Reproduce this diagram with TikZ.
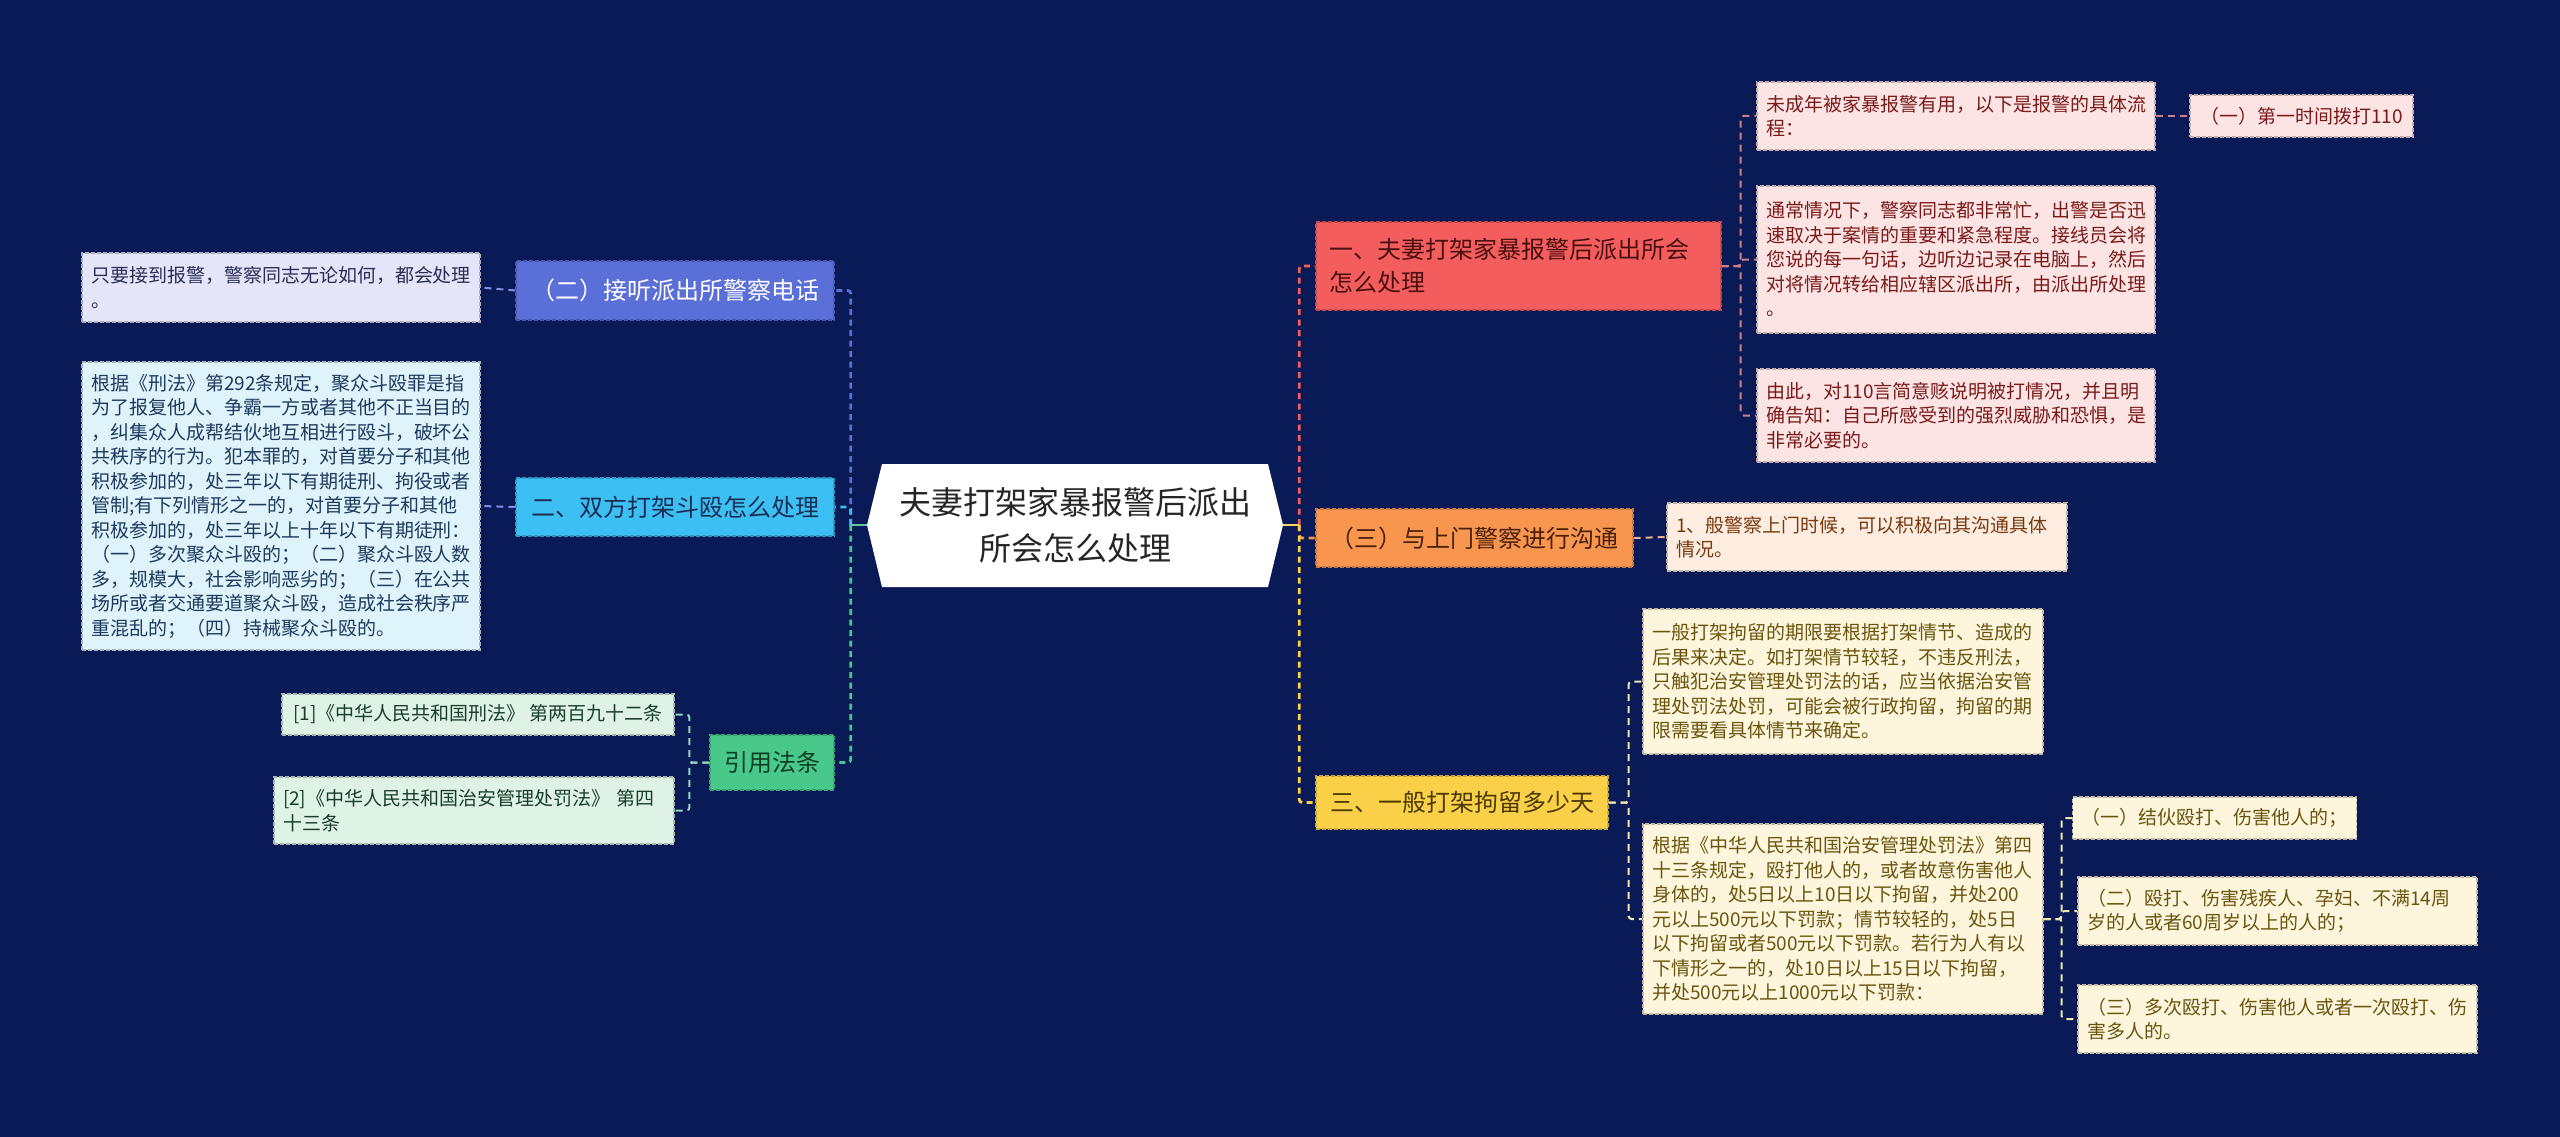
\documentclass[tikz,border=0pt]{standalone}
\usepackage{fontspec}
\setmainfont{Noto Sans CJK SC}
\usetikzlibrary{calc}
\definecolor{bg}{HTML}{0A1A56}
% branch colours
\definecolor{cLa}{HTML}{5A6FD8}\definecolor{cLaT}{HTML}{FFFFFF}
\definecolor{cLaF}{HTML}{E4E5F8}\definecolor{cLaFT}{HTML}{2B2F55}\definecolor{cLaC}{HTML}{7F90E6}
\definecolor{cLb}{HTML}{3CBFF2}\definecolor{cLbT}{HTML}{1A2D55}
\definecolor{cLbF}{HTML}{DFF3FB}\definecolor{cLbFT}{HTML}{1E3A5E}\definecolor{cLbC}{HTML}{7F90E6}
\definecolor{cLc}{HTML}{48C98B}\definecolor{cLcT}{HTML}{0F3D25}
\definecolor{cLcF}{HTML}{DEF3E6}\definecolor{cLcFT}{HTML}{1A3D2A}\definecolor{cLcC}{HTML}{8FD8B8}
\definecolor{cRa}{HTML}{F35D5D}\definecolor{cRaT}{HTML}{4A0F0F}
\definecolor{cRaF}{HTML}{FDE4E4}\definecolor{cRaFT}{HTML}{7A1A1A}\definecolor{cRaC}{HTML}{D0808C}
\definecolor{cRb}{HTML}{F8964F}\definecolor{cRbT}{HTML}{4A200A}
\definecolor{cRbF}{HTML}{FDEDE0}\definecolor{cRbFT}{HTML}{7A3A10}\definecolor{cRbC}{HTML}{E8B090}
\definecolor{cRc}{HTML}{FBD049}\definecolor{cRcT}{HTML}{4A3A00}
\definecolor{cRcF}{HTML}{FDF6DC}\definecolor{cRcFT}{HTML}{6A5510}\definecolor{cRcC}{HTML}{F2E6B0}
\definecolor{cLstub}{HTML}{5CC9A0}\definecolor{cRstub}{HTML}{F5DA5A}
\tikzset{
  box/.style={rectangle, inner xsep=9pt, inner ysep=4pt, line width=1.2pt, dash pattern=on 4pt off 2pt},
  leaf/.style={box, font=\fontsize{19}{24.5}\selectfont, align=left},
  leafc/.style={box, font=\fontsize{19}{24.5}\selectfont, align=center},
  mainbox/.style={box, font=\fontsize{24}{33}\selectfont, align=center},
  mainboxl/.style={box, inner xsep=13pt, font=\fontsize{24}{33}\selectfont, align=left},
  conn/.style={line width=2.8pt, dash pattern=on 6pt off 4.5pt, rounded corners=3pt},
  stub/.style={line width=2.4pt},
  conn2/.style={line width=2pt, dash pattern=on 7pt off 5pt, rounded corners=3pt},
}
\begin{document}
\begin{tikzpicture}[x=1pt,y=-1pt]
\fill[bg] (0,0) rectangle (2560,1137);
\useasboundingbox (0,0) rectangle (2560,1137);
% root
\fill[white] (882,464) -- (1268,464) -- (1283,525) -- (1268,587) -- (882,587) -- (867,525) -- cycle;
\node[rectangle, minimum width=416pt, minimum height=123pt, align=center, text=black!85,
      font=\fontsize{32}{46}\selectfont] (root) at (1075,525) {夫妻打架家暴报警后派出\\所会怎么处理};

% ---------------- left side
\node[mainbox, fill=cLa, draw=cLa!80!black, text=cLaT, minimum width=318pt, minimum height=59pt] (l1) at (675,290.5) {（二）接听派出所警察电话};
\node[leaf, fill=cLaF, draw=cLaF!75!black, text=cLaFT, text width=380pt, minimum height=69pt] (l1a) at (281,287.5)
  {只要接到报警，警察同志无论如何，都会处理\\。};
\node[mainbox, fill=cLb, draw=cLb!80!black, text=cLbT, minimum width=318pt, minimum height=58pt] (l2) at (675,507) {二、双方打架斗殴怎么处理};
\node[leaf, fill=cLbF, draw=cLbF!75!black, text=cLbFT, text width=380pt, minimum height=288pt] (l2a) at (281,506)
  {根据《刑法》第292条规定，聚众斗殴罪是指\\为了报复他人、争霸一方或者其他不正当目的\\，纠集众人成帮结伙地互相进行殴斗，破坏公\\共秩序的行为。犯本罪的，对首要分子和其他\\积极参加的，处三年以下有期徒刑、拘役或者\\管制;有下列情形之一的，对首要分子和其他\\积极参加的，处三年以上十年以下有期徒刑：\\（一）多次聚众斗殴的；（二）聚众斗殴人数\\多，规模大，社会影响恶劣的；（三）在公共\\场所或者交通要道聚众斗殴，造成社会秩序严\\重混乱的；（四）持械聚众斗殴的。};
\node[mainbox, fill=cLc, draw=cLc!80!black, text=cLcT, minimum width=124pt, minimum height=55pt] (l3) at (772,762.5) {引用法条};
\node[leafc, fill=cLcF, draw=cLcF!75!black, text=cLcFT, minimum width=392pt, minimum height=41pt] (l3a) at (478,714.5)
  {[1]《中华人民共和国刑法》 第两百九十二条};
\node[leaf, fill=cLcF, draw=cLcF!75!black, text=cLcFT, text width=382pt, minimum height=67pt] (l3b) at (474,810.5)
  {[2]《中华人民共和国治安管理处罚法》 第四\\十三条};

% ---------------- right side
\node[mainboxl, fill=cRa, draw=cRa!80!black, text=cRaT, text width=379pt, minimum height=88pt] (r1) at (1518.5,266)
  {一、夫妻打架家暴报警后派出所会\\怎么处理};
\node[leaf, fill=cRaF, draw=cRaF!75!black, text=cRaFT, text width=380pt, minimum height=68pt] (r1a) at (1956,116)
  {未成年被家暴报警有用，以下是报警的具体流\\程：};
\node[leafc, fill=cRaF, draw=cRaF!75!black, text=cRaFT, minimum width=223pt, minimum height=42pt] (r1a1) at (2301.5,116)
  {（一）第一时间拨打110};
\node[leaf, fill=cRaF, draw=cRaF!75!black, text=cRaFT, text width=380pt, minimum height=147pt] (r1b) at (1956,259.5)
  {通常情况下，警察同志都非常忙，出警是否迅\\速取决于案情的重要和紧急程度。接线员会将\\您说的每一句话，边听边记录在电脑上，然后\\对将情况转给相应辖区派出所，由派出所处理\\。};
\node[leaf, fill=cRaF, draw=cRaF!75!black, text=cRaFT, text width=380pt, minimum height=93pt] (r1c) at (1956,415.5)
  {由此，对110言简意赅说明被打情况，并且明\\确告知：自己所感受到的强烈威胁和恐惧，是\\非常必要的。};

\node[mainbox, fill=cRb, draw=cRb!80!black, text=cRbT, minimum width=317pt, minimum height=58pt] (r2) at (1474.5,538) {（三）与上门警察进行沟通};
\node[leaf, fill=cRbF, draw=cRbF!75!black, text=cRbFT, text width=382pt, minimum height=68pt] (r2a) at (1867,537)
  {1、般警察上门时候，可以积极向其沟通具体\\情况。};

\node[mainbox, fill=cRc, draw=cRc!80!black, text=cRcT, minimum width=292pt, minimum height=53pt] (r3) at (1462,802.5) {三、一般打架拘留多少天};
\node[leaf, fill=cRcF, draw=cRcF!75!black, text=cRcFT, text width=382pt, minimum height=145pt] (r3a) at (1843,681.5)
  {一般打架拘留的期限要根据打架情节、造成的\\后果来决定。如打架情节较轻，不违反刑法，\\只触犯治安管理处罚法的话，应当依据治安管\\理处罚法处罚，可能会被行政拘留，拘留的期\\限需要看具体情节来确定。};
\node[leaf, fill=cRcF, draw=cRcF!75!black, text=cRcFT, text width=382pt, minimum height=190pt] (r3b) at (1843,919)
  {根据《中华人民共和国治安管理处罚法》第四\\十三条规定，殴打他人的，或者故意伤害他人\\身体的，处5日以上10日以下拘留，并处200\\元以上500元以下罚款；情节较轻的，处5日\\以下拘留或者500元以下罚款。若行为人有以\\下情形之一的，处10日以上15日以下拘留，\\并处500元以上1000元以下罚款：};
\node[leafc, fill=cRcF, draw=cRcF!75!black, text=cRcFT, minimum width=273pt, minimum height=42pt] (r3b1) at (2214.5,818)
  {（一）结伙殴打、伤害他人的；};
\node[leaf, fill=cRcF, draw=cRcF!75!black, text=cRcFT, text width=381pt, minimum height=68pt] (r3b2) at (2277.5,911)
  {（二）殴打、伤害残疾人、孕妇、不满14周\\岁的人或者60周岁以上的人的；};
\node[leaf, fill=cRcF, draw=cRcF!75!black, text=cRcFT, text width=381pt, minimum height=68pt] (r3b3) at (2277.5,1019)
  {（三）多次殴打、伤害他人或者一次殴打、伤\\害多人的。};

% ---------------- connectors: root to main branches
\coordinate (lt) at ($(root.west)+(-16,0)$);
\coordinate (rt) at ($(root.east)+(16,0)$);
\draw[conn, cLa] (lt) |- (l1.east);
\draw[conn, cLb] (lt) |- (l2.east);
\draw[conn, cLc] (lt) |- (l3.east);
\draw[conn, cRa] (rt) |- (r1.west);
\draw[conn, cRb] (rt) |- (r2.west);
\draw[conn, cRc] (rt) |- (r3.west);
\draw[stub, cLstub] (root.west) -- (lt);
\draw[stub, cRstub] (root.east) -- (rt);
% second level
\draw[conn2, cLaC] (l1.west) -- (l1a.east);
\draw[conn2, cLbC] (l2.west) -- (l2a.east);
\draw[conn2, cLcC] (l3.west) -- ++(-20,0) |- (l3a.east);
\draw[conn2, cLcC] (l3.west) -- ++(-20,0) |- (l3b.east);
\draw[conn2, cRaC] (r1.east) -- ++(19,0) |- (r1a.west);
\draw[conn2, cRaC] (r1.east) -- ++(19,0) |- (r1b.west);
\draw[conn2, cRaC] (r1.east) -- ++(19,0) |- (r1c.west);
\draw[conn2, cRaC] (r1a.east) -- (r1a1.west);
\draw[conn2, cRbC] (r2.east) -- (r2a.west);
\draw[conn2, cRcC] (r3.east) -- ++(20,0) |- (r3a.west);
\draw[conn2, cRcC] (r3.east) -- ++(20,0) |- (r3b.west);
\draw[conn2, cRcC] (r3b.east) -- ++(18,0) |- (r3b1.west);
\draw[conn2, cRcC] (r3b.east) -- ++(18,0) |- (r3b2.west);
\draw[conn2, cRcC] (r3b.east) -- ++(18,0) |- (r3b3.west);
\end{tikzpicture}
\end{document}
